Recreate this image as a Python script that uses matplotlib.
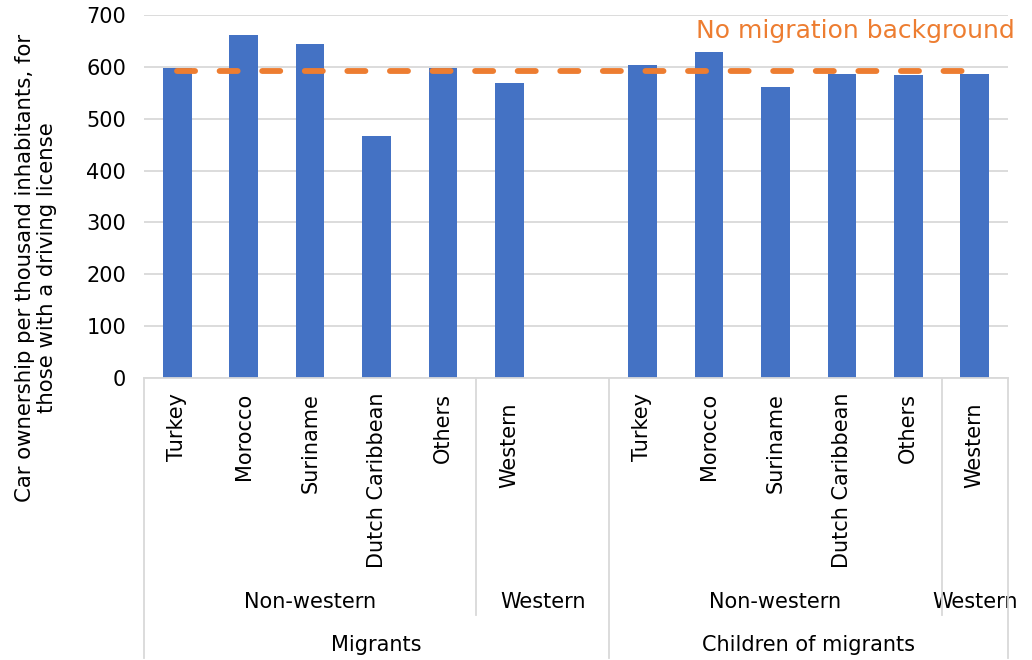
import matplotlib
matplotlib.use("Agg")
import matplotlib.pyplot as plt
import numpy as np
from matplotlib.lines import Line2D
import matplotlib.transforms as mtransforms

# ---- data ----
categories = ["Turkey", "Morocco", "Suriname", "Dutch Caribbean", "Others", "Western", "",
              "Turkey", "Morocco", "Suriname", "Dutch Caribbean", "Others", "Western"]
values = [597, 661, 645, 467, 598, 568, np.nan,
          603, 629, 561, 587, 584, 587]
no_migration = 592
level2_labels = ["Non-western", "Western", "Non-western", "Western"]
level2_spans = [(0, 4), (5, 6), (7, 11), (12, 12)]
level1_labels = ["Migrants", "Children of migrants"]
level1_spans = [(0, 6), (7, 12)]
yticks = [0, 100, 200, 300, 400, 500, 600, 700]
ylabel = "Car ownership per thousand inhabitants, for\nthose with a driving license"
line_label = "No migration background"

BLUE = "#4472C4"
ORANGE = "#ED7D31"
GRID = "#D9D9D9"

W, H = 1032, 660
fig = plt.figure(figsize=(W / 100, H / 100), dpi=100)
plt.rcParams["font.family"] = "DejaVu Sans"

L, R, T, B = 144, 1008, 15, 378
ax = fig.add_axes([L / W, 1 - B / H, (R - L) / W, (B - T) / H])

x = np.arange(len(categories))
ax.bar(x, values, width=0.43, color=BLUE, zorder=2)
ax.set_xlim(-0.5, len(categories) - 0.5)
ax.set_ylim(0, 700)
ax.set_yticks(yticks)
ax.set_yticklabels([str(v) for v in yticks], fontsize=15)
ax.tick_params(axis="y", length=0, pad=13)
ax.set_xticks([])
ax.grid(axis="y", color=GRID, linewidth=1.3, zorder=0)
for s in ["top", "right", "left"]:
    ax.spines[s].set_visible(False)
ax.spines["bottom"].set_color(GRID)
ax.spines["bottom"].set_linewidth(1.3)

# dashed reference line
ax.plot([x[0], x[-1]], [no_migration, no_migration], color=ORANGE, linewidth=4.2,
        dashes=(3.1, 4.2), dash_capstyle="round", zorder=3)
fig.text(1015 / W, 1 - 31 / H, line_label, color=ORANGE,
         fontsize=18, ha="right", va="center")

# category labels
trans = mtransforms.blended_transform_factory(ax.transData, fig.transFigure)
for i, c in enumerate(categories):
    if not c:
        continue
    top = 402 if c == "Western" else 393
    ax.text(i, 1 - top / H, c, transform=trans, rotation=90, ha="center", va="top",
            fontsize=15)

def vline(xd, y0, y1):
    fig.add_artist(Line2D([xd, xd], [1 - y0 / H, 1 - y1 / H], transform=trans,
                          color=GRID, linewidth=1.3, clip_on=False))

for lab, (a, b) in zip(level2_labels, level2_spans):
    ax.text((a + b) / 2, 1 - 602 / H, lab,
            transform=trans, ha="center", va="center", fontsize=15)
for lab, (a, b) in zip(level1_labels, level1_spans):
    ax.text((a + b) / 2, 1 - 645 / H, lab,
            transform=trans, ha="center", va="center", fontsize=15)

# separators
vline(level2_spans[0][1] + 0.5, B, 615)
vline(level2_spans[2][1] + 0.5, B, 615)
for (a, b) in level1_spans:
    vline(a - 0.5, B, 658)
vline(level1_spans[-1][1] + 0.5, B, 658)

fig.text(36 / W, 1 - 268 / H, ylabel, rotation=90, ha="center", va="center",
         fontsize=15.3, linespacing=1.1)

fig.savefig("out.png", dpi=100)
